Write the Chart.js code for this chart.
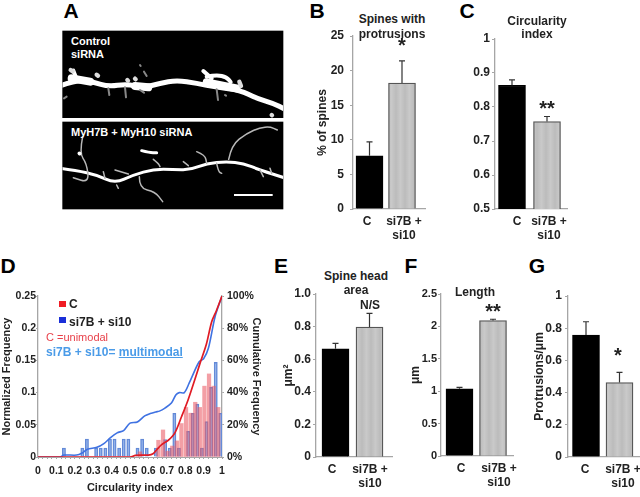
<!DOCTYPE html>
<html>
<head>
<meta charset="utf-8">
<script src="https://cdn.jsdelivr.net/npm/chart.js@4"></script>
<style>
html, body { margin: 0; padding: 0; background: #fff; overflow: hidden; }
body { width: 640px; height: 497px; position: relative; font-family: "Liberation Sans", Arial, sans-serif; color: #222; }
canvas { position: absolute; }
svg { position: absolute; left: 40px; top: 0; }
.t { position: absolute; transform: translate(-50%, -50%); white-space: nowrap; line-height: 1; font-weight: bold; z-index: 3; }
.s { position: absolute; transform: translateY(-50%); white-space: nowrap; line-height: 1; z-index: 3; }
.sq { position: absolute; width: 7px; height: 6px; z-index: 3; }
</style>
</head>
<body>
<svg id="photo" width="260" height="240" viewBox="0 0 780 720">
  <defs>
    <filter id="soft" filterUnits="userSpaceOnUse" x="0" y="0" width="780" height="720"><feGaussianBlur stdDeviation="2"/></filter>
    <clipPath id="frames"><rect x="67" y="92" width="663" height="262"/><rect x="67" y="365" width="663" height="263"/></clipPath>
  </defs>
  <rect x="67" y="92" width="663" height="262" fill="#000"/>
  <rect x="67" y="365" width="663" height="263" fill="#000"/>
  <g id="dendrites" fill="none" stroke-linecap="round" stroke-linejoin="round" clip-path="url(#frames)"></g>
  <rect x="582" y="582" width="116" height="6" fill="#fff"/>
</svg>

<canvas id="chartB"></canvas>
<canvas id="chartC"></canvas>
<canvas id="chartD"></canvas>
<canvas id="chartE"></canvas>
<canvas id="chartF"></canvas>
<canvas id="chartG"></canvas>

<script>
// bar panels: bar height and top of error bar
const barLabels = [["C"], ["si7B +", "si10"]];

const valuesB = [7.7, 18.2];
const errTopB = [9.7, 21.4];
const ticksB = [0, 5, 10, 15, 20, 25];
const tickLabelsB = ["0", "5", "10", "15", "20", "25"];

const valuesC = [0.864, 0.757];
const errTopC = [0.88, 0.772];
const ticksC = [0.5, 0.6, 0.7, 0.8, 0.9, 1];
const tickLabelsC = ["0.5", "0.6", "0.7", "0.8", "0.9", "1"];

const valuesE = [0.664, 0.797];
const errTopE = [0.697, 0.881];
const ticksE = [0, 0.2, 0.4, 0.6, 0.8, 1];
const tickLabelsE = ["0", "0.2", "0.4", "0.6", "0.8", "1.0"];

const valuesF = [1.036, 2.09];
const errTopF = [1.06, 2.11];
const ticksF = [0, 0.5, 1, 1.5, 2, 2.5];
const tickLabelsF = ["0", "0.5", "1", "1.5", "2", "2.5"];

const valuesG = [0.758, 0.462];
const errTopG = [0.84, 0.526];
const ticksG = [0, 0.2, 0.4, 0.6, 0.8, 1];
const tickLabelsG = ["0", "0.2", "0.4", "0.6", "0.8", "1"];

// panel D histogram, 40 bins of width 0.025
const freqC = [null, null, null, null, null, null, null, null, null, null,
    null, null, null, null, null, null, null, null, null, null,
    null, null, 0.008, null, null, null, 0.026, 0.042, 0.009, 0.017,
    0.025, 0.052, 0.077, 0.068, 0.085, 0.077, 0.11, 0.129, 0.11, 0.077];
const freqSi = [null, null, null, null, null, 0.014, null, null, null, 0.014,
    0.028, null, 0.014, 0.014, 0.014, 0.028, 0.028, 0.014, 0.028, 0.028,
    null, 0.014, 0.028, 0.014, null, 0.014, null, 0.027, 0.014, 0.068,
    0.014, null, 0.04, 0.068, 0.082, 0.014, 0.055, 0.108, 0.147, 0.068];

// panel D cumulative curves
const cumXC = [0, 0.5, 0.53, 0.6, 0.625, 0.645, 0.672, 0.708, 0.744, 0.78, 0.816, 0.852, 0.88, 0.915, 0.944, 0.97, 1];
const cumC = [0, 0, 1, 1.2, 2, 4.5, 7.7, 10.4, 15, 25, 35.6, 48, 58, 70, 84, 91, 100];
const cumXSi = [0, 0.12, 0.14, 0.21, 0.24, 0.268, 0.32, 0.36, 0.39, 0.43, 0.465, 0.5, 0.54, 0.58, 0.61, 0.64, 0.66, 0.69, 0.725, 0.75, 0.768, 0.795, 0.822, 0.875, 0.9, 0.926, 0.962, 1];
const cumSi = [0, 0, 1.2, 1.2, 2.5, 4.8, 6, 8.5, 11.6, 15, 16.4, 21, 21.7, 25.5, 27, 28, 28.5, 30.4, 33.5, 38.7, 40, 40, 46, 59, 61, 67.5, 87, 100];

const ticksDLeft = [0, 0.05, 0.1, 0.15, 0.2, 0.25];
const tickLabelsDLeft = ["0", "0.05", "0.1", "0.15", "0.2", "0.25"];
const ticksDRight = [0, 20, 40, 60, 80, 100];
const tickLabelsDRight = ["0%", "20%", "40%", "60%", "80%", "100%"];
const tickLabelsDX = ["0", "0.1", "0.2", "0.3", "0.4", "0.5", "0.6", "0.7", "0.8", "0.9", "1"];

const FONT = '"Liberation Sans", Arial, sans-serif';
const AXIS = "#a6a6a6";
const TEXT = "#222";

// panel A is a micrograph, not a chart: rough white strokes on black
function smoothPath(pts) {
    let d = "M" + pts[0][0] + " " + pts[0][1];
    for (let i = 1; i < pts.length - 1; i++) {
        const mx = (pts[i][0] + pts[i + 1][0]) / 2;
        const my = (pts[i][1] + pts[i + 1][1]) / 2;
        d += " Q" + pts[i][0] + " " + pts[i][1] + " " + mx + " " + my;
    }
    const last = pts[pts.length - 1];
    return d + " L" + last[0] + " " + last[1];
}

function drawDendrite(pts, width, color) {
    const p = document.createElementNS("http://www.w3.org/2000/svg", "path");
    p.setAttribute("d", smoothPath(pts));
    p.setAttribute("stroke-width", width);
    p.setAttribute("stroke", color);
    p.setAttribute("filter", "url(#soft)");
    document.getElementById("dendrites").appendChild(p);
}

[
    [[60, 258], [110, 240], [160, 246], [205, 260], [260, 252], [310, 263], [360, 250], [410, 241], [470, 250], [530, 262], [600, 270], [650, 295], [700, 310], [735, 328]]
].forEach(p => drawDendrite(p, 15, "#fff"));

[
    [[95, 235], [150, 245]], [[285, 258], [325, 262]], [[500, 247], [590, 265]]
].forEach(p => drawDendrite(p, 24, "#fff"));

[
    [[100, 212], [110, 238]], [[500, 230], [530, 224], [560, 232], [572, 246]], [[490, 213], [515, 235]]
].forEach(p => drawDendrite(p, 12, "#fff"));

[
    [[170, 224], [174, 227]], [[262, 240], [264, 242]], [[285, 236], [287, 238]], [[598, 245], [603, 258]], [[695, 345], [696, 346]], [[92, 210], [98, 214]]
].forEach(p => drawDendrite(p, 13, "#ddd"));

[
    [[300, 195], [302, 198]], [[320, 228], [312, 215]], [[205, 265], [208, 285]], [[255, 262], [258, 292]], [[300, 270], [312, 278]], [[530, 268], [534, 300]], [[72, 295], [80, 290]], [[555, 285], [558, 287]]
].forEach(p => drawDendrite(p, 6, "#888"));

[
    [[60, 505], [110, 512], [170, 525], [225, 550], [280, 525], [340, 508], [400, 508], [450, 510], [500, 490], [560, 485], [610, 490], [660, 510], [735, 534]],
    [[305, 452], [328, 458], [350, 458]]
].forEach(p => drawDendrite(p, 9, "#fff"));

[
    [[566, 478], [575, 435], [620, 400], [660, 383], [690, 380], [712, 390]],
    [[128, 410], [118, 460], [140, 490], [147, 548], [100, 533]],
    [[298, 530], [298, 565], [345, 575], [368, 605]],
    [[225, 510], [265, 522]], [[340, 478], [355, 490], [360, 500]], [[470, 455], [495, 465], [500, 490]],
    [[430, 485], [445, 497]], [[530, 490], [535, 515], [545, 520]], [[660, 510], [670, 530]], [[690, 505], [695, 520]],
    [[190, 515], [195, 535]], [[230, 555], [235, 565]]
].forEach(p => drawDendrite(p, 4.5, "#b8b8b8"));

drawDendrite([[118, 460], [119, 461]], 11, "#fff");

function greyStripes() {
    const c = document.createElement("canvas");
    c.width = 9;
    c.height = 2;
    const x = c.getContext("2d");
    const g = x.createLinearGradient(0, 0, 9, 0);
    g.addColorStop(0, "#bcbcbc");
    g.addColorStop(0.5, "#c9c9c9");
    g.addColorStop(1, "#bcbcbc");
    x.fillStyle = g;
    x.fillRect(0, 0, 9, 2);
    return x.createPattern(c, "repeat");
}

function placeCanvas(id, box) {
    const canvas = document.getElementById(id);
    canvas.width = box.w;
    canvas.height = box.h;
    canvas.style.left = box.x + "px";
    canvas.style.top = box.y + "px";
    return canvas;
}

function setTicks(values) {
    return scale => { scale.ticks = values.map(v => ({ value: v })); };
}

function errorBars(tops) {
    return {
        id: "errorBars",
        afterDatasetsDraw(chart) {
            const ctx = chart.ctx;
            const meta = chart.getDatasetMeta(0);
            const yScale = chart.scales.y;
            ctx.save();
            ctx.strokeStyle = "#333";
            ctx.lineWidth = 1.2;
            meta.data.forEach((bar, i) => {
                const top = yScale.getPixelForValue(tops[i]);
                ctx.beginPath();
                ctx.moveTo(bar.x, bar.y);
                ctx.lineTo(bar.x, top);
                ctx.moveTo(bar.x - 3, top);
                ctx.lineTo(bar.x + 3, top);
                ctx.stroke();
            });
            ctx.restore();
        }
    };
}

function barPanel(p) {
    const canvas = placeCanvas(p.id, p.box);
    const step = p.centers[1] - p.centers[0];
    const toX = px => 0.5 + (px - p.centers[0]) / step;
    const yScale = {
        min: p.ticks[0],
        max: p.ticks[p.ticks.length - 1],
        afterBuildTicks: setTicks(p.ticks),
        afterFit: s => { s.width = p.plot.l - p.box.x; s.paddingTop = 0; s.paddingBottom = 0; },
        border: { color: AXIS, width: 1.3 },
        grid: { drawOnChartArea: false, color: AXIS, tickLength: 3 },
        ticks: {
            autoSkip: false,
            padding: p.tickGap,
            color: TEXT,
            font: { family: FONT, size: p.tickSize || 12, weight: "bold" },
            callback: (v, i) => p.tickLabels[i]
        }
    };
    if (p.yTitle) {
        yScale.title = {
            display: true,
            text: p.yTitle,
            color: TEXT,
            padding: 0,
            font: { family: FONT, size: 12, weight: "bold" }
        };
    }
    new Chart(canvas, {
        type: "bar",
        data: {
            datasets: [{
                data: p.values.map((v, i) => ({ x: i + 0.5, y: v })),
                backgroundColor: ["#000", greyStripes()],
                borderColor: ["#000", "#555"],
                borderWidth: 1.3,
                barThickness: 27
            }]
        },
        options: {
            responsive: false,
            animation: false,
            events: [],
            layout: { padding: { top: p.plot.t - p.box.y, right: p.box.x + p.box.w - p.plot.r } },
            plugins: { legend: { display: false }, tooltip: { enabled: false } },
            scales: {
                x: {
                    type: "linear",
                    offset: false,
                    min: toX(p.plot.l),
                    max: toX(p.plot.r),
                    afterBuildTicks: setTicks(p.labelX.map(toX)),
                    afterFit: s => { s.height = p.box.y + p.box.h - p.plot.b; s.paddingLeft = 0; s.paddingRight = 0; },
                    border: { color: AXIS, width: 1.3 },
                    grid: { offset: false, drawOnChartArea: false, drawTicks: false },
                    ticks: {
                        autoSkip: false,
                        maxRotation: 0,
                        padding: 5,
                        color: TEXT,
                        font: { family: FONT, size: 12, weight: "bold" },
                        callback: (v, i) => barLabels[i]
                    }
                },
                y: yScale
            }
        },
        plugins: [errorBars(p.errTops)]
    });
}

barPanel({ id: "chartB", box: { x: 315, y: 26, w: 125, h: 220 }, plot: { l: 353, t: 36, r: 425, b: 209 },
    centers: [369.5, 402], labelX: [367, 404], values: valuesB, errTops: errTopB, ticks: ticksB, tickLabels: tickLabelsB, tickGap: 6, yTitle: "% of spines" });
barPanel({ id: "chartC", box: { x: 465, y: 29, w: 115, h: 217 }, plot: { l: 495, t: 39, r: 567, b: 209 },
    centers: [512, 547], labelX: [517, 549], values: valuesC, errTops: errTopC, ticks: ticksC, tickLabels: tickLabelsC, tickGap: 2 });
barPanel({ id: "chartE", box: { x: 281, y: 284, w: 125, h: 210 }, plot: { l: 316, t: 294, r: 392, b: 457 },
    centers: [335.5, 369.5], labelX: [332, 370], values: valuesE, errTops: errTopE, ticks: ticksE, tickLabels: tickLabelsE, tickGap: 2, yTitle: "μm²" });
barPanel({ id: "chartF", box: { x: 408, y: 284, w: 115, h: 210 }, plot: { l: 441, t: 294, r: 513, b: 456 },
    centers: [459.5, 493], labelX: [461, 499], values: valuesF, errTops: errTopF, ticks: ticksF, tickLabels: tickLabelsF, tickGap: 1, tickSize: 11, yTitle: "μm" });
barPanel({ id: "chartG", box: { x: 532, y: 286, w: 120, h: 208 }, plot: { l: 568, t: 296, r: 640, b: 457 },
    centers: [586, 619.5], labelX: [585, 623], values: valuesG, errTops: errTopG, ticks: ticksG, tickLabels: tickLabelsG, tickGap: 3, yTitle: "Protrusions/μm" });

// panel D: histogram + cumulative lines on the right axis
const boxD = { x: 0, y: 286, w: 263, h: 209 };
const plotD = { l: 38, t: 296, r: 222, b: 457 };
const binStarts = freqC.map((_, i) => i * 0.025);
const xTicksD = binStarts.concat([1]);

new Chart(placeCanvas("chartD", boxD), {
    type: "bar",
    data: {
        datasets: [
            {
                type: "line",
                order: 0,
                yAxisID: "y1",
                data: cumXC.map((x, i) => ({ x: x, y: cumC[i] })),
                borderColor: "#e01b24",
                borderWidth: 1.7,
                pointRadius: 0,
                tension: 0.3
            },
            {
                type: "line",
                order: 0,
                yAxisID: "y1",
                data: cumXSi.map((x, i) => ({ x: x, y: cumSi[i] })),
                borderColor: "#3f72e2",
                borderWidth: 1.6,
                pointRadius: 0,
                tension: 0.3
            },
            {
                order: 1,
                data: freqC.map((v, i) => ({ x: binStarts[i] + 0.0045, y: v })),
                backgroundColor: "rgba(235,90,100,0.58)",
                barThickness: 3.6,
                grouped: false
            },
            {
                order: 2,
                data: freqSi.map((v, i) => ({ x: binStarts[i] + 0.016, y: v })),
                backgroundColor: "rgba(120,160,230,0.55)",
                borderColor: "#6288d6",
                borderWidth: 1,
                barThickness: 3.2,
                grouped: false
            }
        ]
    },
    options: {
        responsive: false,
        animation: false,
        events: [],
        layout: { padding: { top: plotD.t - boxD.y, right: 0 } },
        plugins: { legend: { display: false }, tooltip: { enabled: false } },
        scales: {
            x: {
                type: "linear",
                offset: false,
                min: 0,
                max: 1,
                afterBuildTicks: setTicks(xTicksD),
                afterFit: s => { s.height = boxD.y + boxD.h - plotD.b; s.paddingLeft = 0; s.paddingRight = 0; },
                border: { color: AXIS, width: 1 },
                grid: { offset: false, drawOnChartArea: false, color: AXIS, tickLength: 2 },
                title: {
                    display: true,
                    text: "Circularity index",
                    color: TEXT,
                    padding: 0,
                    font: { family: FONT, size: 11, weight: "bold" }
                },
                ticks: {
                    autoSkip: false,
                    maxRotation: 0,
                    padding: 6,
                    color: TEXT,
                    font: { family: FONT, size: 10.5, weight: "bold" },
                    callback: (v, i) => i % 4 === 0 ? tickLabelsDX[i / 4] : ""
                }
            },
            y: {
                min: 0,
                max: 0.25,
                afterBuildTicks: setTicks(ticksDLeft),
                afterFit: s => { s.width = plotD.l - boxD.x; s.paddingTop = 0; s.paddingBottom = 0; },
                border: { color: AXIS, width: 1.3 },
                grid: { drawOnChartArea: false, color: AXIS, tickLength: 2 },
                title: {
                    display: true,
                    text: "Normalized Frequency",
                    color: TEXT,
                    padding: 0,
                    font: { family: FONT, size: 11, weight: "bold" }
                },
                ticks: {
                    autoSkip: false,
                    padding: 0,
                    color: TEXT,
                    font: { family: FONT, size: 10.5, weight: "bold" },
                    callback: (v, i) => tickLabelsDLeft[i]
                }
            },
            y1: {
                position: "right",
                min: 0,
                max: 100,
                afterBuildTicks: setTicks(ticksDRight),
                afterFit: s => { s.width = boxD.x + boxD.w - plotD.r; s.paddingTop = 0; s.paddingBottom = 0; },
                border: { color: AXIS, width: 1.3 },
                grid: { drawOnChartArea: false, color: AXIS, tickLength: 2 },
                title: {
                    display: true,
                    text: "Cumulative Frequency",
                    color: TEXT,
                    padding: 0,
                    font: { family: FONT, size: 11, weight: "bold" }
                },
                ticks: {
                    autoSkip: false,
                    padding: 3,
                    color: TEXT,
                    font: { family: FONT, size: 10.5, weight: "bold" },
                    callback: (v, i) => tickLabelsDRight[i]
                }
            }
        }
    }
});

// text that sits on top of the panels
function centerText(text, x, y, size, color) {
    const d = document.createElement("div");
    d.className = "t";
    d.textContent = text;
    d.style.left = x + "px";
    d.style.top = y + "px";
    d.style.fontSize = size + "px";
    if (color) d.style.color = color;
    document.body.appendChild(d);
}

function leftText(html, x, y, size, weight, color) {
    const d = document.createElement("div");
    d.className = "s";
    d.innerHTML = html;
    d.style.left = x + "px";
    d.style.top = y + "px";
    d.style.fontSize = size + "px";
    d.style.fontWeight = weight;
    d.style.color = color;
    document.body.appendChild(d);
}

function square(x, y, color) {
    const d = document.createElement("div");
    d.className = "sq";
    d.style.left = x + "px";
    d.style.top = y + "px";
    d.style.background = color;
    document.body.appendChild(d);
}

const letters = [["A", 71, 10], ["B", 317, 10], ["C", 467, 10], ["D", 8, 265], ["E", 281, 265], ["F", 411, 265], ["G", 537, 265]];
letters.forEach(l => centerText(l[0], l[1], l[2], 21, "#000"));

centerText("Spines with", 392, 19, 12);
centerText("protrusions", 392, 34, 12);
centerText("Circularity", 537, 21, 12);
centerText("index", 537, 34, 12);
centerText("Spine head", 356, 276, 12);
centerText("area", 356, 290, 12);
centerText("N/S", 370, 305, 12);
centerText("Length", 475, 292, 12);
centerText("*", 402, 45, 20);
centerText("**", 547, 108, 20);
centerText("**", 493, 311, 20);
centerText("*", 618, 355, 20);

leftText("Control", 71, 41, 11, "bold", "#fff");
leftText("siRNA", 71, 54, 11, "bold", "#fff");
leftText("MyH7B + MyH10 siRNA", 71, 132, 11, "bold", "#fff");

square(59, 301, "#f01c24");
square(59, 317, "#1a2fd8");
leftText("C", 69, 304, 12, "bold", "#222");
leftText("si7B + si10", 69, 322, 12, "bold", "#222");
leftText("C =unimodal", 46, 337, 11, "normal", "#e8404a");
leftText('si7B + si10= <u>multimodal</u>', 46, 352, 12, "bold", "#4a9be8");
</script>
</body>
</html>
